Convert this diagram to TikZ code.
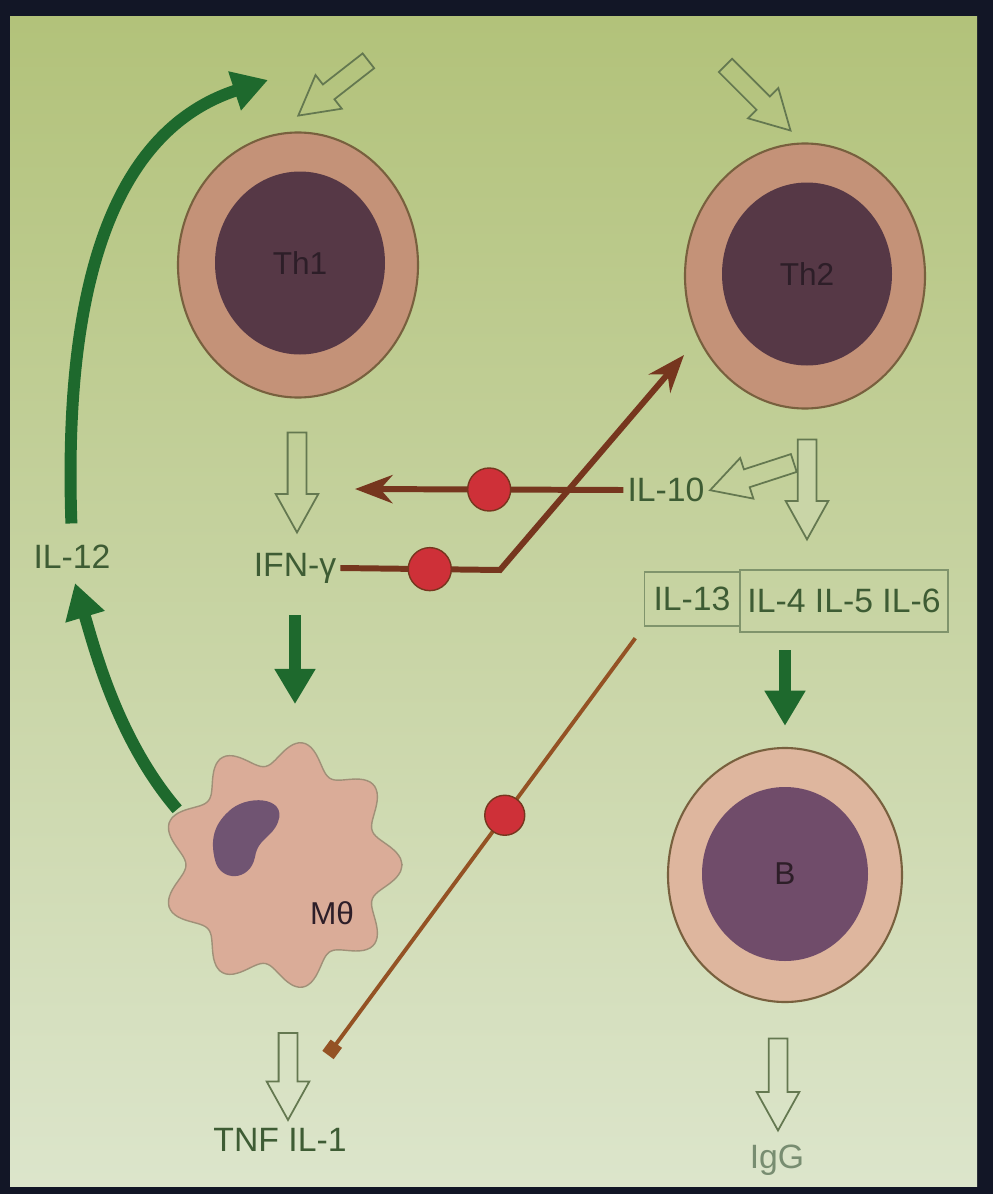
\documentclass[tikz,border=0pt]{standalone}
\usepackage{fontspec}
\setmainfont{Liberation Sans}
\usetikzlibrary{shapes.geometric, shapes.arrows, arrows.meta}

\definecolor{frame}{RGB}{18,22,38}
\definecolor{paneltop}{RGB}{178,194,122}
\definecolor{panelbot}{RGB}{220,229,203}
\definecolor{cellrim}{RGB}{120,96,62}
\definecolor{cellpink}{RGB}{196,146,120}
\definecolor{cellcore}{RGB}{86,56,70}
\definecolor{bpink}{RGB}{222,182,158}
\definecolor{bcore}{RGB}{112,76,106}
\definecolor{macfill}{RGB}{218,172,152}
\definecolor{macnuc}{RGB}{112,84,114}
\definecolor{boostgreen}{RGB}{30,105,45}
\definecolor{blockbrown}{RGB}{118,54,30}
\definecolor{linkbrown}{RGB}{148,82,36}
\definecolor{dotred}{RGB}{206,48,56}
\definecolor{labelgreen}{RGB}{62,92,52}
\definecolor{arrowline}{RGB}{100,120,80}
\definecolor{boxline}{RGB}{128,148,108}
\definecolor{coretext}{RGB}{45,30,40}

\begin{document}
\begin{tikzpicture}[x=0.1mm, y=-0.1mm, >=Stealth,
    cellouter/.style={ellipse, draw=cellrim, line width=0.6pt, fill=cellpink,
        minimum width=24mm, minimum height=26.5mm, inner sep=0},
    cellcore/.style={ellipse, fill=cellcore, minimum width=17mm,
        minimum height=18.3mm, inner sep=0, text=coretext, font=\small},
    hollow/.style={single arrow, draw=arrowline, line width=0.5pt,
        minimum width=4.1mm, single arrow head extend=1.2mm,
        single arrow tip angle=58, inner xsep=0, inner ysep=0.85mm},
    boost/.style={draw=boostgreen, line width=3.4pt,
        -{Triangle[length=10pt, width=11pt]}},
    block/.style={draw=blockbrown, line width=1.7pt},
    dot/.style={circle, fill=dotred, draw=blockbrown, line width=0.4pt,
        minimum size=4.3mm, inner sep=0},
    lbl/.style={text=labelgreen, font=\fontsize{9.6}{12}\selectfont, inner sep=1pt}]

  % Rahmen und Hintergrund
  \fill[frame] (0,0) rectangle (993,1194);
  \shade[top color=paneltop, bottom color=panelbot] (10,16) rectangle (977,1186);
  \useasboundingbox (0,0) rectangle (993,1194);

  % T-Helferzellen
  \node[cellouter] (th1) at (298,265) {};
  \node[cellcore] (th1core) at (300,263) {Th1};
  \node[cellouter] (th2) at (805,276) {};
  \node[cellcore] (th2core) at (807,274) {Th2};

  % B-Zelle
  \node[cellouter, fill=bpink, minimum width=23.4mm, minimum height=25.4mm] (b) at (785,875) {};
  \node[cellcore, fill=bcore, minimum width=16.6mm, minimum height=17.4mm] (bcore) at (785,874) {B};

  % Makrophage
  \fill[macfill, draw=cellrim!70, line width=0.4pt]
    plot[domain=0:360, samples=120, smooth cycle]
    ({282 + (108 + 12*cos(9*\x))*cos(\x)}, {865 + (112 + 12*cos(9*\x))*sin(\x)});
  \fill[macnuc] (228,812) .. controls (245,794) and (288,796) .. (278,822)
    .. controls (272,838) and (258,838) .. (255,857)
    .. controls (250,882) and (220,882) .. (215,860)
    .. controls (210,840) and (214,825) .. (228,812);
  \node[circle, minimum size=23.6mm, inner sep=0] (mac) at (282,865) {};
  \node[text=coretext, font=\small] (maclbl) at (332,913) {Mθ};

  % Zytokine
  \node[lbl] (il12) at (72,557) {IL-12};
  \node[lbl] (ifn) at (295,568) {IFN-γ};
  \node[lbl] (il10) at (666,490) {IL-10};
  \node[lbl, draw=boxline, line width=0.5pt, minimum width=9.5mm, minimum height=5.4mm] (il13) at (692,599) {IL-13};
  \node[lbl, draw=boxline, line width=0.5pt, minimum width=20.8mm, minimum height=6.2mm] (ilbox) at (844,601) {IL-4 IL-5 IL-6};
  \node[lbl] (tnf) at (280,1140) {TNF IL-1};
  \node[lbl, text=labelgreen!70] (igg) at (777,1160) {IgG};

  % offene Pfeile
  \node[hollow, minimum height=8.9mm, rotate=218] (inl) at (340,83) {};
  \node[hollow, minimum height=9.2mm, rotate=-45] (inr) at (752,92) {};
  \node[hollow, minimum height=10mm, rotate=-90] (th1out) at (297,474) {};
  \node[hollow, minimum height=8.8mm, rotate=198] (th2side) at (760,474) {};
  \node[hollow, minimum height=10mm, rotate=-90, fill=panelbot!55!paneltop] (th2out) at (807,481) {};
  \node[hollow, minimum height=8.7mm, rotate=-90] (macout) at (288,1068) {};
  \node[hollow, minimum height=9.2mm, rotate=-90] (bout) at (778,1076) {};

  % grüne Pfeile
  \coordinate (th1in) at (268,80);
  \draw[boost, shorten <=5pt] (il12.north) .. controls (62,250) and (130,125) .. (th1in);
  \draw[boost, shorten >=3pt] (mac.152) .. controls (118,740) and (95,650) .. (il12.south);
  \draw[boost, shorten <=8pt, shorten >=12pt] (ifn.south) -- (ifn.south |- mac.north);
  \draw[boost, shorten <=5pt, shorten >=6pt] (ilbox.south -| b.north) -- (b.north);

  % Hemmung
  \coordinate (ifnin) at (355,489);
  \coordinate (kink) at (500,570);
  \coordinate (th2in) at (684,355);
  \draw[block, ->] (il10.west) -- (ifnin) node[dot, pos=0.5] {};
  \draw[block, ->] (ifn.east) -- (kink) node[dot, pos=0.56] {} -- (th2in);
  \coordinate (tnfend) at (328,1055);
  \draw[draw=linkbrown, line width=1.1pt, -{Square[length=4pt, width=4pt]}, shorten <=4pt]
    (il13.south west) -- (tnfend) node[dot, pos=0.44, minimum size=4mm] {};
\end{tikzpicture}
\end{document}
